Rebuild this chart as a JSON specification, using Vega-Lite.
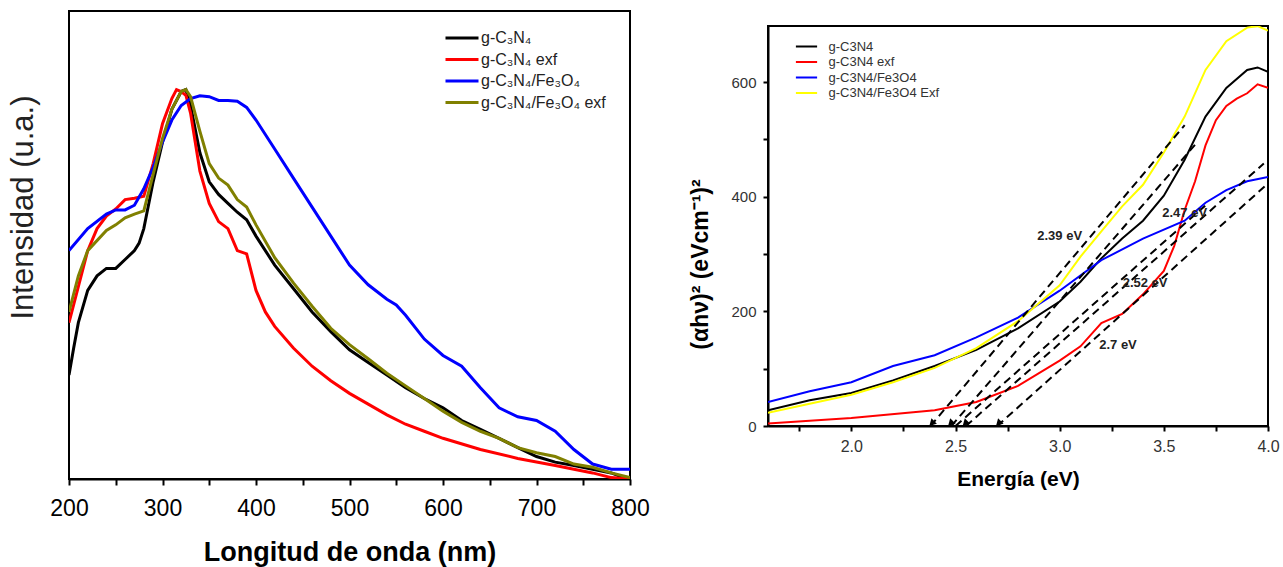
{
  "$schema": "https://vega.github.io/schema/vega-lite/v6.json",
  "background": "white",
  "padding": {"left": 6, "top": 10, "right": 5, "bottom": 2},
  "config": {
    "font": "Liberation Sans",
    "view": {"stroke": "black", "strokeWidth": 2},
    "concat": {"spacing": 37},
    "axis": {"grid": false, "domainColor": "black", "tickColor": "black", "labelFlush": false}
  },
  "resolve": {"scale": {"color": "independent"}, "legend": {"color": "independent"}},
  "datasets": {
    "uv": [
      {"s": "g-C₃N₄", "x": 200, "y": 22.2}, {"s": "g-C₃N₄", "x": 205, "y": 28}, {"s": "g-C₃N₄", "x": 210, "y": 33.4}, {"s": "g-C₃N₄", "x": 220, "y": 40.3}, {"s": "g-C₃N₄", "x": 230, "y": 43.4}, {"s": "g-C₃N₄", "x": 240, "y": 45}, {"s": "g-C₃N₄", "x": 250, "y": 45}, {"s": "g-C₃N₄", "x": 260, "y": 46.9}, {"s": "g-C₃N₄", "x": 270, "y": 48.8}, {"s": "g-C₃N₄", "x": 275, "y": 50.4}, {"s": "g-C₃N₄", "x": 280, "y": 53.5}, {"s": "g-C₃N₄", "x": 290, "y": 63.5}, {"s": "g-C₃N₄", "x": 300, "y": 72}, {"s": "g-C₃N₄", "x": 310, "y": 79}, {"s": "g-C₃N₄", "x": 320, "y": 82.8}, {"s": "g-C₃N₄", "x": 325, "y": 83.2}, {"s": "g-C₃N₄", "x": 330, "y": 79.8}, {"s": "g-C₃N₄", "x": 340, "y": 69.7}, {"s": "g-C₃N₄", "x": 350, "y": 63.5}, {"s": "g-C₃N₄", "x": 360, "y": 60.8}, {"s": "g-C₃N₄", "x": 370, "y": 58.9}, {"s": "g-C₃N₄", "x": 380, "y": 57}, {"s": "g-C₃N₄", "x": 390, "y": 55.4}, {"s": "g-C₃N₄", "x": 400, "y": 51.9}, {"s": "g-C₃N₄", "x": 420, "y": 45.7}, {"s": "g-C₃N₄", "x": 440, "y": 40.7}, {"s": "g-C₃N₄", "x": 460, "y": 35.7}, {"s": "g-C₃N₄", "x": 480, "y": 31.5}, {"s": "g-C₃N₄", "x": 500, "y": 27.6}, {"s": "g-C₃N₄", "x": 520, "y": 24.9}, {"s": "g-C₃N₄", "x": 540, "y": 22.2}, {"s": "g-C₃N₄", "x": 560, "y": 19.5}, {"s": "g-C₃N₄", "x": 580, "y": 17.2}, {"s": "g-C₃N₄", "x": 600, "y": 15.2}, {"s": "g-C₃N₄", "x": 620, "y": 12.5}, {"s": "g-C₃N₄", "x": 640, "y": 10.6}, {"s": "g-C₃N₄", "x": 660, "y": 8.7}, {"s": "g-C₃N₄", "x": 680, "y": 6.7}, {"s": "g-C₃N₄", "x": 700, "y": 4.8}, {"s": "g-C₃N₄", "x": 720, "y": 3.6}, {"s": "g-C₃N₄", "x": 740, "y": 2.9}, {"s": "g-C₃N₄", "x": 760, "y": 2.1}, {"s": "g-C₃N₄", "x": 780, "y": 1.3}, {"s": "g-C₃N₄", "x": 790, "y": 0.5}, {"s": "g-C₃N₄", "x": 800, "y": 0.2},
      {"s": "g-C₃N₄ exf", "x": 200, "y": 33.4}, {"s": "g-C₃N₄ exf", "x": 210, "y": 41.1}, {"s": "g-C₃N₄ exf", "x": 220, "y": 48.8}, {"s": "g-C₃N₄ exf", "x": 230, "y": 53.5}, {"s": "g-C₃N₄ exf", "x": 240, "y": 56.2}, {"s": "g-C₃N₄ exf", "x": 250, "y": 57.7}, {"s": "g-C₃N₄ exf", "x": 260, "y": 59.7}, {"s": "g-C₃N₄ exf", "x": 270, "y": 60}, {"s": "g-C₃N₄ exf", "x": 280, "y": 60.4}, {"s": "g-C₃N₄ exf", "x": 290, "y": 67.4}, {"s": "g-C₃N₄ exf", "x": 300, "y": 75.9}, {"s": "g-C₃N₄ exf", "x": 310, "y": 81.3}, {"s": "g-C₃N₄ exf", "x": 315, "y": 83.2}, {"s": "g-C₃N₄ exf", "x": 320, "y": 82.8}, {"s": "g-C₃N₄ exf", "x": 325, "y": 82}, {"s": "g-C₃N₄ exf", "x": 330, "y": 78.2}, {"s": "g-C₃N₄ exf", "x": 340, "y": 65.8}, {"s": "g-C₃N₄ exf", "x": 350, "y": 58.9}, {"s": "g-C₃N₄ exf", "x": 360, "y": 55}, {"s": "g-C₃N₄ exf", "x": 370, "y": 53.5}, {"s": "g-C₃N₄ exf", "x": 380, "y": 48.8}, {"s": "g-C₃N₄ exf", "x": 390, "y": 48.1}, {"s": "g-C₃N₄ exf", "x": 400, "y": 40.3}, {"s": "g-C₃N₄ exf", "x": 410, "y": 35.7}, {"s": "g-C₃N₄ exf", "x": 420, "y": 32.6}, {"s": "g-C₃N₄ exf", "x": 440, "y": 28}, {"s": "g-C₃N₄ exf", "x": 460, "y": 24.1}, {"s": "g-C₃N₄ exf", "x": 480, "y": 21}, {"s": "g-C₃N₄ exf", "x": 500, "y": 18.3}, {"s": "g-C₃N₄ exf", "x": 520, "y": 16}, {"s": "g-C₃N₄ exf", "x": 540, "y": 13.7}, {"s": "g-C₃N₄ exf", "x": 560, "y": 11.7}, {"s": "g-C₃N₄ exf", "x": 580, "y": 10.2}, {"s": "g-C₃N₄ exf", "x": 600, "y": 8.7}, {"s": "g-C₃N₄ exf", "x": 640, "y": 6.3}, {"s": "g-C₃N₄ exf", "x": 680, "y": 4.4}, {"s": "g-C₃N₄ exf", "x": 720, "y": 2.9}, {"s": "g-C₃N₄ exf", "x": 760, "y": 1.3}, {"s": "g-C₃N₄ exf", "x": 780, "y": 0.3}, {"s": "g-C₃N₄ exf", "x": 800, "y": 0},
      {"s": "g-C₃N₄/Fe₃O₄", "x": 200, "y": 48.8}, {"s": "g-C₃N₄/Fe₃O₄", "x": 220, "y": 53.5}, {"s": "g-C₃N₄/Fe₃O₄", "x": 240, "y": 56.6}, {"s": "g-C₃N₄/Fe₃O₄", "x": 250, "y": 57.5}, {"s": "g-C₃N₄/Fe₃O₄", "x": 260, "y": 57.5}, {"s": "g-C₃N₄/Fe₃O₄", "x": 270, "y": 58.5}, {"s": "g-C₃N₄/Fe₃O₄", "x": 280, "y": 62}, {"s": "g-C₃N₄/Fe₃O₄", "x": 290, "y": 66.6}, {"s": "g-C₃N₄/Fe₃O₄", "x": 300, "y": 72}, {"s": "g-C₃N₄/Fe₃O₄", "x": 310, "y": 76.7}, {"s": "g-C₃N₄/Fe₃O₄", "x": 320, "y": 79.8}, {"s": "g-C₃N₄/Fe₃O₄", "x": 330, "y": 81.3}, {"s": "g-C₃N₄/Fe₃O₄", "x": 340, "y": 81.9}, {"s": "g-C₃N₄/Fe₃O₄", "x": 350, "y": 81.7}, {"s": "g-C₃N₄/Fe₃O₄", "x": 360, "y": 80.9}, {"s": "g-C₃N₄/Fe₃O₄", "x": 370, "y": 80.9}, {"s": "g-C₃N₄/Fe₃O₄", "x": 380, "y": 80.7}, {"s": "g-C₃N₄/Fe₃O₄", "x": 390, "y": 79.4}, {"s": "g-C₃N₄/Fe₃O₄", "x": 400, "y": 76.7}, {"s": "g-C₃N₄/Fe₃O₄", "x": 420, "y": 70.5}, {"s": "g-C₃N₄/Fe₃O₄", "x": 440, "y": 64.3}, {"s": "g-C₃N₄/Fe₃O₄", "x": 460, "y": 58.1}, {"s": "g-C₃N₄/Fe₃O₄", "x": 480, "y": 51.9}, {"s": "g-C₃N₄/Fe₃O₄", "x": 500, "y": 45.7}, {"s": "g-C₃N₄/Fe₃O₄", "x": 520, "y": 41.5}, {"s": "g-C₃N₄/Fe₃O₄", "x": 540, "y": 38.4}, {"s": "g-C₃N₄/Fe₃O₄", "x": 550, "y": 37.2}, {"s": "g-C₃N₄/Fe₃O₄", "x": 560, "y": 35}, {"s": "g-C₃N₄/Fe₃O₄", "x": 580, "y": 29.9}, {"s": "g-C₃N₄/Fe₃O₄", "x": 600, "y": 26.4}, {"s": "g-C₃N₄/Fe₃O₄", "x": 620, "y": 24.1}, {"s": "g-C₃N₄/Fe₃O₄", "x": 640, "y": 19.5}, {"s": "g-C₃N₄/Fe₃O₄", "x": 660, "y": 15.2}, {"s": "g-C₃N₄/Fe₃O₄", "x": 680, "y": 13.3}, {"s": "g-C₃N₄/Fe₃O₄", "x": 700, "y": 12.5}, {"s": "g-C₃N₄/Fe₃O₄", "x": 720, "y": 10.2}, {"s": "g-C₃N₄/Fe₃O₄", "x": 740, "y": 6.3}, {"s": "g-C₃N₄/Fe₃O₄", "x": 760, "y": 3.2}, {"s": "g-C₃N₄/Fe₃O₄", "x": 780, "y": 2.1}, {"s": "g-C₃N₄/Fe₃O₄", "x": 800, "y": 2.1},
      {"s": "g-C₃N₄/Fe₃O₄ exf", "x": 200, "y": 35.7}, {"s": "g-C₃N₄/Fe₃O₄ exf", "x": 210, "y": 43.4}, {"s": "g-C₃N₄/Fe₃O₄ exf", "x": 220, "y": 48.8}, {"s": "g-C₃N₄/Fe₃O₄ exf", "x": 240, "y": 53.1}, {"s": "g-C₃N₄/Fe₃O₄ exf", "x": 250, "y": 54.3}, {"s": "g-C₃N₄/Fe₃O₄ exf", "x": 260, "y": 55.8}, {"s": "g-C₃N₄/Fe₃O₄ exf", "x": 270, "y": 56.6}, {"s": "g-C₃N₄/Fe₃O₄ exf", "x": 280, "y": 57.3}, {"s": "g-C₃N₄/Fe₃O₄ exf", "x": 290, "y": 65.1}, {"s": "g-C₃N₄/Fe₃O₄ exf", "x": 300, "y": 72.8}, {"s": "g-C₃N₄/Fe₃O₄ exf", "x": 310, "y": 79}, {"s": "g-C₃N₄/Fe₃O₄ exf", "x": 320, "y": 82.8}, {"s": "g-C₃N₄/Fe₃O₄ exf", "x": 325, "y": 83.2}, {"s": "g-C₃N₄/Fe₃O₄ exf", "x": 330, "y": 81.7}, {"s": "g-C₃N₄/Fe₃O₄ exf", "x": 340, "y": 74.3}, {"s": "g-C₃N₄/Fe₃O₄ exf", "x": 350, "y": 67.4}, {"s": "g-C₃N₄/Fe₃O₄ exf", "x": 360, "y": 64.3}, {"s": "g-C₃N₄/Fe₃O₄ exf", "x": 370, "y": 62.8}, {"s": "g-C₃N₄/Fe₃O₄ exf", "x": 380, "y": 59.7}, {"s": "g-C₃N₄/Fe₃O₄ exf", "x": 390, "y": 58.1}, {"s": "g-C₃N₄/Fe₃O₄ exf", "x": 400, "y": 54.3}, {"s": "g-C₃N₄/Fe₃O₄ exf", "x": 420, "y": 47.3}, {"s": "g-C₃N₄/Fe₃O₄ exf", "x": 440, "y": 41.9}, {"s": "g-C₃N₄/Fe₃O₄ exf", "x": 460, "y": 36.9}, {"s": "g-C₃N₄/Fe₃O₄ exf", "x": 480, "y": 32.2}, {"s": "g-C₃N₄/Fe₃O₄ exf", "x": 500, "y": 28.7}, {"s": "g-C₃N₄/Fe₃O₄ exf", "x": 520, "y": 25.7}, {"s": "g-C₃N₄/Fe₃O₄ exf", "x": 540, "y": 22.6}, {"s": "g-C₃N₄/Fe₃O₄ exf", "x": 560, "y": 19.9}, {"s": "g-C₃N₄/Fe₃O₄ exf", "x": 580, "y": 17.2}, {"s": "g-C₃N₄/Fe₃O₄ exf", "x": 600, "y": 14.5}, {"s": "g-C₃N₄/Fe₃O₄ exf", "x": 620, "y": 12.1}, {"s": "g-C₃N₄/Fe₃O₄ exf", "x": 640, "y": 10.2}, {"s": "g-C₃N₄/Fe₃O₄ exf", "x": 660, "y": 8.7}, {"s": "g-C₃N₄/Fe₃O₄ exf", "x": 680, "y": 6.7}, {"s": "g-C₃N₄/Fe₃O₄ exf", "x": 700, "y": 5.6}, {"s": "g-C₃N₄/Fe₃O₄ exf", "x": 720, "y": 4.8}, {"s": "g-C₃N₄/Fe₃O₄ exf", "x": 740, "y": 3.2}, {"s": "g-C₃N₄/Fe₃O₄ exf", "x": 760, "y": 2.5}, {"s": "g-C₃N₄/Fe₃O₄ exf", "x": 780, "y": 1.3}, {"s": "g-C₃N₄/Fe₃O₄ exf", "x": 800, "y": 0.3}
    ],
    "tauc": [
      {"s": "g-C3N4", "x": 1.6, "y": 27.6}, {"s": "g-C3N4", "x": 1.8, "y": 45}, {"s": "g-C3N4", "x": 2.0, "y": 57.6}, {"s": "g-C3N4", "x": 2.2, "y": 79.5}, {"s": "g-C3N4", "x": 2.4, "y": 104.6}, {"s": "g-C3N4", "x": 2.6, "y": 132.8}, {"s": "g-C3N4", "x": 2.8, "y": 170.4}, {"s": "g-C3N4", "x": 3.0, "y": 217.3}, {"s": "g-C3N4", "x": 3.1, "y": 251.8}, {"s": "g-C3N4", "x": 3.2, "y": 292.5}, {"s": "g-C3N4", "x": 3.3, "y": 327}, {"s": "g-C3N4", "x": 3.4, "y": 358.2}, {"s": "g-C3N4", "x": 3.5, "y": 402}, {"s": "g-C3N4", "x": 3.6, "y": 464.7}, {"s": "g-C3N4", "x": 3.7, "y": 539.9}, {"s": "g-C3N4", "x": 3.8, "y": 590}, {"s": "g-C3N4", "x": 3.9, "y": 621.3}, {"s": "g-C3N4", "x": 3.95, "y": 625.7}, {"s": "g-C3N4", "x": 4.0, "y": 618.2},
      {"s": "g-C3N4 exf", "x": 1.6, "y": 4.4}, {"s": "g-C3N4 exf", "x": 2.0, "y": 13.8}, {"s": "g-C3N4 exf", "x": 2.4, "y": 27.6}, {"s": "g-C3N4 exf", "x": 2.6, "y": 42}, {"s": "g-C3N4 exf", "x": 2.8, "y": 70.1}, {"s": "g-C3N4 exf", "x": 3.0, "y": 114}, {"s": "g-C3N4 exf", "x": 3.1, "y": 139}, {"s": "g-C3N4 exf", "x": 3.2, "y": 179.7}, {"s": "g-C3N4 exf", "x": 3.3, "y": 195.4}, {"s": "g-C3N4 exf", "x": 3.4, "y": 229.8}, {"s": "g-C3N4 exf", "x": 3.5, "y": 270.6}, {"s": "g-C3N4 exf", "x": 3.55, "y": 314.4}, {"s": "g-C3N4 exf", "x": 3.6, "y": 377}, {"s": "g-C3N4 exf", "x": 3.65, "y": 427}, {"s": "g-C3N4 exf", "x": 3.7, "y": 489.7}, {"s": "g-C3N4 exf", "x": 3.75, "y": 533.6}, {"s": "g-C3N4 exf", "x": 3.8, "y": 558.6}, {"s": "g-C3N4 exf", "x": 3.85, "y": 571.2}, {"s": "g-C3N4 exf", "x": 3.9, "y": 580.6}, {"s": "g-C3N4 exf", "x": 3.95, "y": 596.2}, {"s": "g-C3N4 exf", "x": 4.0, "y": 590},
      {"s": "g-C3N4/Fe3O4", "x": 1.6, "y": 42}, {"s": "g-C3N4/Fe3O4", "x": 1.8, "y": 60.8}, {"s": "g-C3N4/Fe3O4", "x": 2.0, "y": 76.4}, {"s": "g-C3N4/Fe3O4", "x": 2.2, "y": 104.6}, {"s": "g-C3N4/Fe3O4", "x": 2.4, "y": 123.4}, {"s": "g-C3N4/Fe3O4", "x": 2.6, "y": 154.7}, {"s": "g-C3N4/Fe3O4", "x": 2.8, "y": 189.1}, {"s": "g-C3N4/Fe3O4", "x": 3.0, "y": 236.1}, {"s": "g-C3N4/Fe3O4", "x": 3.2, "y": 289.3}, {"s": "g-C3N4/Fe3O4", "x": 3.4, "y": 327}, {"s": "g-C3N4/Fe3O4", "x": 3.6, "y": 358.2}, {"s": "g-C3N4/Fe3O4", "x": 3.7, "y": 389.6}, {"s": "g-C3N4/Fe3O4", "x": 3.8, "y": 411.5}, {"s": "g-C3N4/Fe3O4", "x": 3.9, "y": 427.1}, {"s": "g-C3N4/Fe3O4", "x": 4.0, "y": 434.7},
      {"s": "g-C3N4/Fe3O4 Exf", "x": 1.6, "y": 23.2}, {"s": "g-C3N4/Fe3O4 Exf", "x": 1.8, "y": 38.8}, {"s": "g-C3N4/Fe3O4 Exf", "x": 2.0, "y": 54.5}, {"s": "g-C3N4/Fe3O4 Exf", "x": 2.2, "y": 76.4}, {"s": "g-C3N4/Fe3O4 Exf", "x": 2.4, "y": 101.5}, {"s": "g-C3N4/Fe3O4 Exf", "x": 2.6, "y": 135.9}, {"s": "g-C3N4/Fe3O4 Exf", "x": 2.8, "y": 182.9}, {"s": "g-C3N4/Fe3O4 Exf", "x": 3.0, "y": 245.5}, {"s": "g-C3N4/Fe3O4 Exf", "x": 3.1, "y": 295.6}, {"s": "g-C3N4/Fe3O4 Exf", "x": 3.2, "y": 339.5}, {"s": "g-C3N4/Fe3O4 Exf", "x": 3.3, "y": 383.3}, {"s": "g-C3N4/Fe3O4 Exf", "x": 3.4, "y": 420.9}, {"s": "g-C3N4/Fe3O4 Exf", "x": 3.5, "y": 477.2}, {"s": "g-C3N4/Fe3O4 Exf", "x": 3.6, "y": 539.9}, {"s": "g-C3N4/Fe3O4 Exf", "x": 3.7, "y": 621.3}, {"s": "g-C3N4/Fe3O4 Exf", "x": 3.8, "y": 671.4}, {"s": "g-C3N4/Fe3O4 Exf", "x": 3.9, "y": 695.2}, {"s": "g-C3N4/Fe3O4 Exf", "x": 3.95, "y": 697.7}, {"s": "g-C3N4/Fe3O4 Exf", "x": 4.0, "y": 690.2}
    ],
    "tangents": [
      {"x": 2.38, "y": 0, "x2": 3.6, "y2": 525},
      {"x": 2.48, "y": 0, "x2": 3.66, "y2": 495},
      {"x": 2.5, "y": 0, "x2": 3.7, "y2": 385},
      {"x": 2.55, "y": 0, "x2": 3.98, "y2": 458},
      {"x": 2.7, "y": 0, "x2": 3.99, "y2": 420}
    ],
    "arrows": [
      {"x": 2.39, "y": 6}, {"x": 2.48, "y": 6}, {"x": 2.55, "y": 6}, {"x": 2.71, "y": 6}
    ],
    "notes": [
      {"t": "2.39 eV", "x": 3.0, "y": 331},
      {"t": "2.47 eV", "x": 3.6, "y": 371},
      {"t": "2.52 eV", "x": 3.41, "y": 250},
      {"t": "2.7 eV", "x": 3.28, "y": 142}
    ]
  },
  "hconcat": [
    {
      "width": 561,
      "height": 468,
      "data": {"name": "uv"},
      "mark": {"type": "line", "strokeWidth": 3, "clip": true},
      "encoding": {
        "x": {
          "field": "x", "type": "quantitative",
          "scale": {"domain": [200, 800], "nice": false, "zero": false},
          "axis": {
            "values": [200, 250, 300, 350, 400, 450, 500, 550, 600, 650, 700, 750, 800],
            "labelExpr": "datum.value % 100 === 0 ? datum.label : ''",
            "title": "Longitud de onda (nm)", "titleFontSize": 27, "titleFontWeight": "bold", "titleColor": "black",
            "labelFontSize": 23, "labelColor": "black", "tickSize": 6, "tickWidth": 2, "domainWidth": 2,
            "labelPadding": 12, "titlePadding": 19
          }
        },
        "y": {
          "field": "y", "type": "quantitative",
          "scale": {"domain": [0, 100], "nice": false},
          "axis": {
            "labels": false, "ticks": false, "domain": false,
            "title": "Intensidad (u.a.)", "titleFontSize": 31, "titleFontWeight": "normal", "titleColor": "#222222",
            "titlePadding": 30, "titleY": 196
          }
        },
        "color": {
          "field": "s", "type": "nominal",
          "scale": {
            "domain": ["g-C₃N₄", "g-C₃N₄ exf", "g-C₃N₄/Fe₃O₄", "g-C₃N₄/Fe₃O₄ exf"],
            "range": ["#000000", "#ff0000", "#0000ff", "#808000"]
          },
          "legend": {
            "title": null, "orient": "none", "legendX": 385, "legendY": 19,
            "symbolType": "M-3,0H3", "symbolSize": 121, "symbolStrokeWidth": 3,
            "labelFontSize": 16, "labelColor": "#222222", "rowPadding": 5.5, "labelOffset": 11
          }
        }
      }
    },
    {
      "spacing": 0,
      "vconcat": [
        {
          "width": 500,
          "height": 14,
          "view": {"stroke": null},
          "data": {"values": [{"a": 1}]},
          "mark": {"type": "point", "opacity": 0},
          "encoding": {}
        },
        {
          "width": 500,
          "height": 400,
          "layer": [
            {
              "data": {"name": "tauc"},
              "mark": {"type": "line", "strokeWidth": 2, "clip": true},
              "encoding": {
                "x": {
                  "field": "x", "type": "quantitative",
                  "scale": {"domain": [1.6, 4.0], "nice": false, "zero": false},
                  "axis": {
                    "values": [1.75, 2.0, 2.25, 2.5, 2.75, 3.0, 3.25, 3.5, 3.75, 4.0],
                    "labelExpr": "datum.value % 0.5 === 0 ? format(datum.value, '.1f') : ''",
                    "title": "Energía (eV)", "titleFontSize": 21, "titleFontWeight": "bold", "titleColor": "black",
                    "labelFontSize": 16, "labelColor": "#333333", "tickSize": 5, "tickWidth": 2, "domainWidth": 2,
                    "labelPadding": 7, "titlePadding": 14
                  }
                },
                "y": {
                  "field": "y", "type": "quantitative",
                  "scale": {"domain": [0, 698], "nice": false},
                  "axis": {
                    "values": [0, 100, 200, 300, 400, 500, 600],
                    "labelExpr": "datum.value % 200 === 0 ? datum.label : ''",
                    "title": "(αhν)² (eVcm⁻¹)²", "titleFontSize": 23, "titleFontWeight": "bold", "titleColor": "black",
                    "labelFontSize": 15, "labelColor": "#333333", "tickSize": 5, "tickWidth": 2, "domainWidth": 2,
                    "labelPadding": 7, "titlePadding": 18, "titleY": 238
                  }
                },
                "color": {
                  "field": "s", "type": "nominal",
                  "scale": {
                    "domain": ["g-C3N4", "g-C3N4 exf", "g-C3N4/Fe3O4", "g-C3N4/Fe3O4 Exf"],
                    "range": ["#000000", "#ff0000", "#0000ff", "#ffff00"]
                  },
                  "legend": {
                    "title": null, "orient": "none", "legendX": 32, "legendY": 29,
                    "symbolType": "M-3,0H3", "symbolSize": 50, "symbolStrokeWidth": 2,
                    "labelFontSize": 13, "labelColor": "#333333", "rowPadding": 1.5, "labelOffset": 15.5
                  }
                }
              }
            },
            {
              "data": {"name": "tangents"},
              "mark": {"type": "rule", "strokeDash": [8, 5], "strokeWidth": 2, "color": "black"},
              "encoding": {
                "x": {"field": "x", "type": "quantitative"},
                "y": {"field": "y", "type": "quantitative"},
                "x2": {"field": "x2"},
                "y2": {"field": "y2"}
              }
            },
            {
              "data": {"name": "arrows"},
              "mark": {"type": "point", "shape": "triangle", "filled": true, "color": "black", "size": 60, "angle": 225, "opacity": 1},
              "encoding": {
                "x": {"field": "x", "type": "quantitative"},
                "y": {"field": "y", "type": "quantitative"}
              }
            },
            {
              "data": {"name": "notes"},
              "mark": {"type": "text", "fontSize": 13, "fontWeight": "bold", "color": "#222222"},
              "encoding": {
                "x": {"field": "x", "type": "quantitative"},
                "y": {"field": "y", "type": "quantitative"},
                "text": {"field": "t"}
              }
            }
          ]
        }
      ]
    }
  ]
}
